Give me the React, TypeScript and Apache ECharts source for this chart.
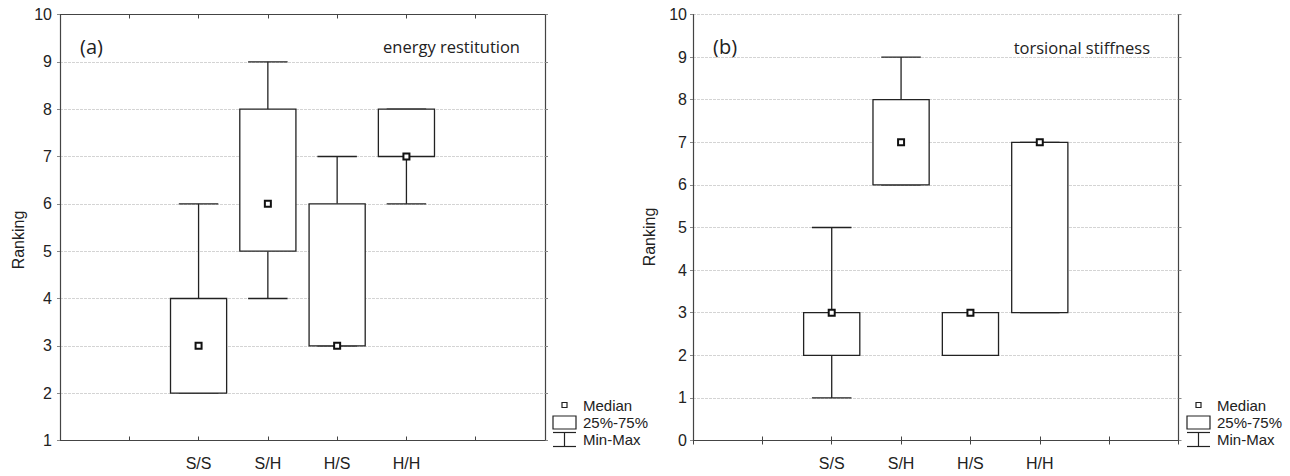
import React, { useEffect, useRef } from "react";
import * as echarts from "echarts";

const categories = ["S/S", "S/H", "H/S", "H/H"];
const axisSlots = ["", "", ...categories, "", ""];

// energy restitution (a)
const energyMin = [2, 4, 3, 6];
const energyQ1 = [2, 5, 3, 7];
const energyMedian = [3, 6, 3, 7];
const energyQ3 = [4, 8, 6, 8];
const energyMax = [6, 9, 7, 8];

// torsional stiffness (b)
const stiffMin = [1, 6, 2, 3];
const stiffQ1 = [2, 6, 2, 3];
const stiffMedian = [3, 7, 3, 7];
const stiffQ3 = [3, 8, 3, 7];
const stiffMax = [5, 9, 3, 7];

const leftYRange = [1, 10];
const rightYRange = [0, 10];

const legendLabels = ["Median", "25%-75%", "Min-Max"];

const FONT = "'Liberation Sans', Arial, sans-serif";
const HUMAN = "'Open Sans', 'Noto Sans', sans-serif";
const INK = "#222";
const AXIS = "#444";

function buildData(mn: number[], q1: number[], md: number[], q3: number[], mx: number[]) {
  return categories.map((c, i) => [axisSlots.indexOf(c), mn[i], q1[i], md[i], q3[i], mx[i]]);
}

const renderBox = (params: any, api: any) => {
  const x = api.value(0);
  const mn = api.value(1);
  const q1 = api.value(2);
  const md = api.value(3);
  const q3 = api.value(4);
  const mx = api.value(5);
  const p0 = api.coord([x, mn]);
  const p1 = api.coord([x + 1, mn]);
  const band = Math.abs(p1[0] - p0[0]);
  const boxW = band * 0.81;
  const capW = band * 0.57;
  const cx = p0[0];
  const yMin = p0[1];
  const yQ1 = api.coord([x, q1])[1];
  const yMd = api.coord([x, md])[1];
  const yQ3 = api.coord([x, q3])[1];
  const yMax = api.coord([x, mx])[1];
  const ls = { stroke: INK, lineWidth: 1.3 };
  const children: any[] = [
    { type: "line", shape: { x1: cx, y1: yMax, x2: cx, y2: yQ3 }, style: ls },
    { type: "line", shape: { x1: cx, y1: yMin, x2: cx, y2: yQ1 }, style: ls },
    { type: "line", shape: { x1: cx - capW / 2, y1: yMax, x2: cx + capW / 2, y2: yMax }, style: ls },
    { type: "line", shape: { x1: cx - capW / 2, y1: yMin, x2: cx + capW / 2, y2: yMin }, style: ls },
    {
      type: "rect",
      shape: { x: cx - boxW / 2, y: yQ3, width: boxW, height: yQ1 - yQ3 },
      style: { fill: "#fff", stroke: INK, lineWidth: 1.3 },
    },
    {
      type: "rect",
      shape: { x: cx - 3, y: yMd - 3, width: 6, height: 6 },
      style: { fill: "#fff", stroke: "#111", lineWidth: 2 },
    },
  ];
  return { type: "group", children };
};

function legendGroup(left: number) {
  const cx = left + 11.5;
  const ls = { stroke: INK, lineWidth: 1.2 };
  const tx = left + 30;
  const ts = { fill: INK, font: `15px ${FONT}`, textVerticalAlign: "middle" as const };
  return [
    { type: "rect", shape: { x: cx - 2.5, y: 402.5, width: 5, height: 5 }, style: { fill: "#fff", stroke: INK, lineWidth: 1.2 } },
    { type: "text", x: tx, y: 405, style: { ...ts, text: legendLabels[0] } },
    { type: "rect", shape: { x: left, y: 416, width: 23, height: 13 }, style: { fill: "#fff", stroke: INK, lineWidth: 1.2 } },
    { type: "text", x: tx, y: 422.5, style: { ...ts, text: legendLabels[1] } },
    { type: "line", shape: { x1: left, y1: 432.5, x2: left + 23, y2: 432.5 }, style: ls },
    { type: "line", shape: { x1: cx, y1: 432.5, x2: cx, y2: 446.5 }, style: ls },
    { type: "line", shape: { x1: left, y1: 446.5, x2: left + 23, y2: 446.5 }, style: ls },
    { type: "text", x: tx, y: 439.5, style: { ...ts, text: legendLabels[2] } },
  ];
}

function xAxes(gridIndex: number) {
  const base = {
    type: "category" as const,
    data: axisSlots,
    boundaryGap: false,
    gridIndex,
    axisLine: { show: true, lineStyle: { color: AXIS, width: 1.2 } },
    axisTick: { show: true, inside: true, length: 4, interval: 0, lineStyle: { color: AXIS } },
    splitLine: { show: false },
  };
  return [
    {
      ...base,
      position: "bottom",
      axisLabel: { show: true, interval: 0, margin: 15, color: INK, fontSize: 16, fontFamily: FONT },
    },
    { ...base, position: "top", axisLabel: { show: false } },
  ];
}

function yAxes(gridIndex: number, range: number[], labelMargin: number) {
  const base = {
    type: "value" as const,
    min: range[0],
    max: range[1],
    interval: 1,
    gridIndex,
    axisLine: { show: true, lineStyle: { color: AXIS, width: 1.2 } },
    axisTick: { show: true, inside: false, length: 3, lineStyle: { color: "#888" } },
  };
  return [
    {
      ...base,
      position: "left",
      axisLabel: { show: true, margin: labelMargin, color: INK, fontSize: 16, fontFamily: FONT },
      splitLine: { show: true, lineStyle: { color: "#d4d4d4", type: [3, 1], width: 1 } },
    },
    { ...base, position: "right", axisLabel: { show: false }, splitLine: { show: false } },
  ];
}

export default function App() {
  const ref = useRef<HTMLDivElement>(null);
  useEffect(() => {
    document.body.style.margin = "0";
    if (!ref.current) return;
    const chart = echarts.init(ref.current, null, { renderer: "svg" });
    chart.setOption({
      animation: false,
      backgroundColor: "#fff",
      grid: [
        { left: 60, top: 14.5, width: 485, height: 426, show: false },
        { left: 693, top: 14.5, width: 485.5, height: 426, show: false },
      ],
      xAxis: [...xAxes(0), ...xAxes(1)],
      yAxis: [...yAxes(0, leftYRange, 8), ...yAxes(1, rightYRange, 6)],
      series: [
        {
          type: "custom",
          xAxisIndex: 0,
          yAxisIndex: 0,
          renderItem: renderBox,
          data: buildData(energyMin, energyQ1, energyMedian, energyQ3, energyMax),
          z: 5,
        },
        {
          type: "custom",
          xAxisIndex: 2,
          yAxisIndex: 2,
          renderItem: renderBox,
          data: buildData(stiffMin, stiffQ1, stiffMedian, stiffQ3, stiffMax),
          z: 5,
        },
      ],
      graphic: [
        { type: "text", x: 80, y: 46, style: { text: "(a)", fill: INK, font: `20px ${HUMAN}`, textVerticalAlign: "middle" } },
        { type: "text", x: 520, y: 46, style: { text: "energy restitution", fill: INK, font: `16.5px ${HUMAN}`, textAlign: "right", textVerticalAlign: "middle" } },
        { type: "text", x: 713, y: 46, style: { text: "(b)", fill: INK, font: `20px ${HUMAN}`, textVerticalAlign: "middle" } },
        { type: "text", x: 1150, y: 47, style: { text: "torsional stiffness", fill: INK, font: `16.5px ${HUMAN}`, textAlign: "right", textVerticalAlign: "middle" } },
        { type: "text", x: 18, y: 240, rotation: Math.PI / 2, style: { text: "Ranking", fill: INK, font: `16px ${FONT}`, textAlign: "center", textVerticalAlign: "middle" } },
        { type: "text", x: 649, y: 237, rotation: Math.PI / 2, style: { text: "Ranking", fill: INK, font: `16px ${FONT}`, textAlign: "center", textVerticalAlign: "middle" } },
        ...legendGroup(553),
        ...legendGroup(1187),
      ],
    });
    return () => chart.dispose();
  }, []);
  return <div ref={ref} style={{ width: 1290, height: 476 }} />;
}
